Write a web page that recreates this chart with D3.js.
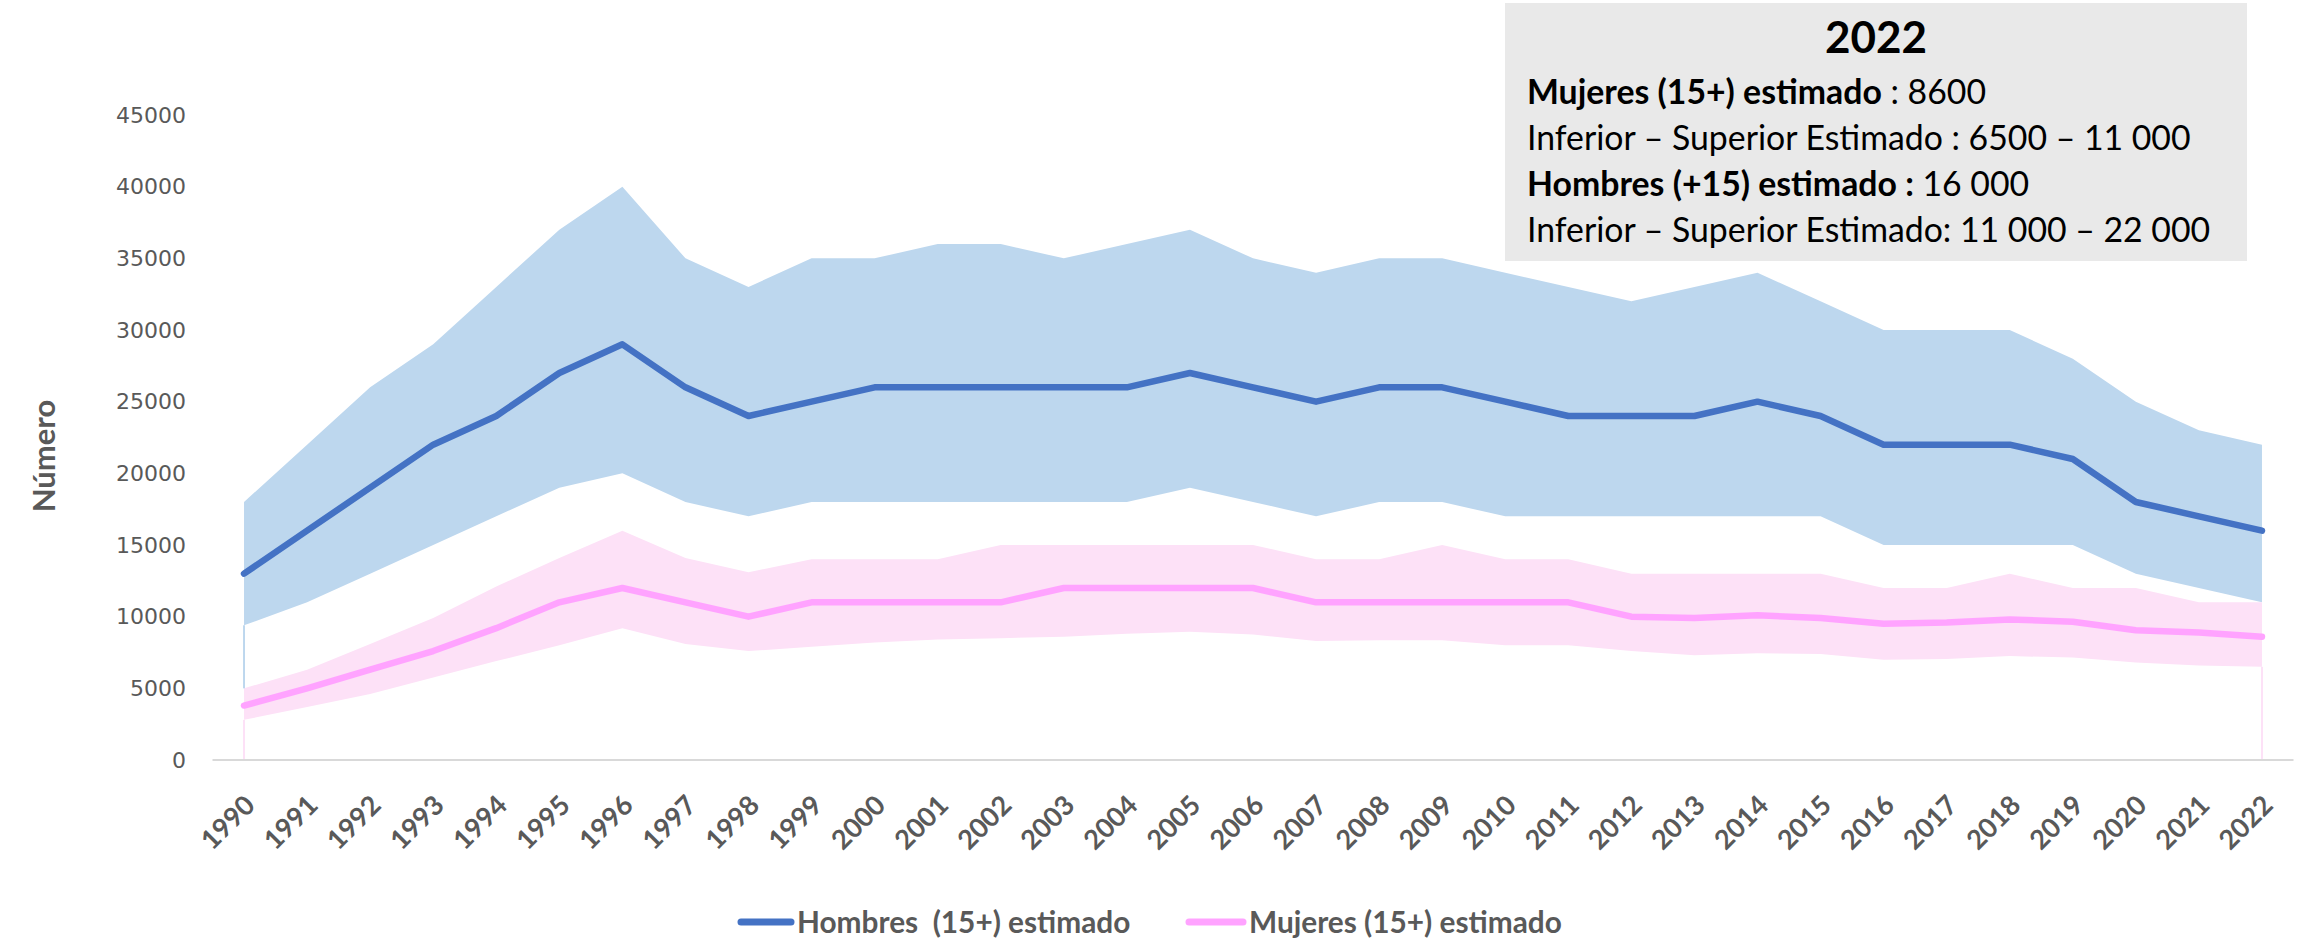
<!DOCTYPE html>
<html>
<head>
<meta charset="utf-8">
<script src="https://cdnjs.cloudflare.com/ajax/libs/d3/7.8.5/d3.min.js"></script>
<style>
  body { margin: 0; background: #fff; }
  text { white-space: pre; }
</style>
</head>
<body>
<script>
let years = [1990, 1991, 1992, 1993, 1994, 1995, 1996, 1997, 1998, 1999, 2000,
  2001, 2002, 2003, 2004, 2005, 2006, 2007, 2008, 2009, 2010, 2011,
  2012, 2013, 2014, 2015, 2016, 2017, 2018, 2019, 2020, 2021, 2022];

let hombres = [13000, 16000, 19000, 22000, 24000, 27000, 29000, 26000, 24000, 25000, 26000,
  26000, 26000, 26000, 26000, 27000, 26000, 25000, 26000, 26000, 25000, 24000,
  24000, 24000, 25000, 24000, 22000, 22000, 22000, 21000, 18000, 17000, 16000];
let hombresLow = [9400, 11000, 13000, 15000, 17000, 19000, 20000, 18000, 17000, 18000, 18000,
  18000, 18000, 18000, 18000, 19000, 18000, 17000, 18000, 18000, 17000, 17000,
  17000, 17000, 17000, 17000, 15000, 15000, 15000, 15000, 13000, 12000, 11000];
let hombresHigh = [18000, 22000, 26000, 29000, 33000, 37000, 40000, 35000, 33000, 35000, 35000,
  36000, 36000, 35000, 36000, 37000, 35000, 34000, 35000, 35000, 34000, 33000,
  32000, 33000, 34000, 32000, 30000, 30000, 30000, 28000, 25000, 23000, 22000];

let mujeres = [3800, 5000, 6300, 7600, 9200, 11000, 12000, 11000, 10000, 11000, 11000,
  11000, 11000, 12000, 12000, 12000, 12000, 11000, 11000, 11000, 11000, 11000,
  10000, 9900, 10100, 9900, 9500, 9600, 9800, 9650, 9050, 8900, 8600];
let mujeresLow = [2800, 3700, 4600, 5750, 6900, 8000, 9200, 8100, 7600, 7900, 8200,
  8400, 8500, 8600, 8800, 8950, 8750, 8300, 8350, 8350, 8000, 8000,
  7600, 7300, 7450, 7400, 7000, 7050, 7250, 7150, 6800, 6600, 6500];
let mujeresHigh = [5000, 6300, 8100, 9900, 12100, 14100, 16000, 14100, 13100, 14000, 14000,
  14000, 15000, 15000, 15000, 15000, 15000, 14000, 14000, 15000, 14000, 14000,
  13000, 13000, 13000, 13000, 12000, 12000, 13000, 12000, 12000, 11000, 11000];

let yTicks = [0, 5000, 10000, 15000, 20000, 25000, 30000, 35000, 40000, 45000];

let seriesNames = ['Hombres  (15+) estimado', 'Mujeres (15+) estimado'];

let boxTitle = '2022';
let boxLines = [
  [['Mujeres (15+) estimado', true], [' : 8600', false]],
  [['Inferior \u2013 Superior Estimado : 6500 \u2013 11 000', false]],
  [['Hombres (+15) estimado :', true], [' 16 000', false]],
  [['Inferior \u2013 Superior Estimado: 11 000 \u2013 22 000', false]]
];

let svgWidth = 2302;
let svgHeight = 939;

let margins = {
  top: 115,
  right: 8.5,
  bottom: 179,
  left: 212.5
};

let blue = '#4472C4';
let blueFill = '#BDD7EE';
let pink = '#FFA3FF';
let pinkFill = '#FDE1F7';
let grey = '#595959';

let svg = d3.select('body')
  .append('svg')
  .attr('width', svgWidth)
  .attr('height', svgHeight);

let x = d3.scalePoint()
  .domain(years)
  .range([margins.left, svgWidth - margins.right])
  .padding(0.5);

let y = d3.scaleLinear()
  .domain([0, 45000])
  .range([svgHeight - margins.bottom, margins.top]);

let band = (low, high) => d3.area()
  .x((d, i) => x(years[i]))
  .y0((d, i) => y(low[i]))
  .y1((d, i) => y(high[i]));

let line = d3.line()
  .x((d, i) => x(years[i]))
  .y(d => y(d));

// bands
svg.append('path')
  .datum(years)
  .attr('d', band(hombresLow, hombresHigh))
  .attr('fill', blueFill);

svg.append('path')
  .datum(years)
  .attr('d', band(mujeresLow, mujeresHigh))
  .attr('fill', pinkFill);

// thin edges left by the stacked areas in the original
let first = years[0];
svg.append('line')
  .attr('x1', x(first)).attr('x2', x(first))
  .attr('y1', y(hombresLow[0])).attr('y2', y(mujeresHigh[0]))
  .attr('stroke', blueFill).attr('stroke-width', 2);
[0, years.length - 1].forEach(i => {
  svg.append('line')
    .attr('x1', x(years[i])).attr('x2', x(years[i]))
    .attr('y1', y(mujeresLow[i])).attr('y2', y(0))
    .attr('stroke', pinkFill).attr('stroke-width', 2);
});

// axis line
svg.append('line')
  .attr('x1', margins.left)
  .attr('x2', svgWidth - margins.right)
  .attr('y1', y(0))
  .attr('y2', y(0))
  .attr('stroke', '#D9D9D9')
  .attr('stroke-width', 2);

// lines
svg.append('path')
  .datum(hombres)
  .attr('d', line)
  .attr('fill', 'none')
  .attr('stroke', blue)
  .attr('stroke-width', 6.5)
  .attr('stroke-linecap', 'round')
  .attr('stroke-linejoin', 'round');

svg.append('path')
  .datum(mujeres)
  .attr('d', line)
  .attr('fill', 'none')
  .attr('stroke', pink)
  .attr('stroke-width', 6.5)
  .attr('stroke-linecap', 'round')
  .attr('stroke-linejoin', 'round');

// y axis labels
let leftAxis = d3.axisLeft(y)
  .tickValues(yTicks)
  .tickFormat(d3.format('d'))
  .tickSize(0)
  .tickPadding(0);

let yAxis = svg.append('g')
  .attr('transform', 'translate(186, 0)')
  .call(leftAxis);
yAxis.select('.domain').remove();
yAxis.selectAll('text')
  .attr('font-family', 'DejaVu Sans')
  .attr('font-size', 22)
  .attr('fill', grey);

// x axis labels
let bottomAxis = d3.axisBottom(x).tickSize(0).tickPadding(0);
let xAxis = svg.append('g')
  .attr('transform', `translate(0, ${y(0)})`)
  .call(bottomAxis);
xAxis.select('.domain').remove();
xAxis.selectAll('text')
  .attr('font-family', 'Lato')
  .attr('font-weight', 'bold')
  .attr('font-size', 27)
  .attr('fill', grey)
  .attr('text-anchor', 'end')
  .attr('dy', 0)
  .attr('y', 0)
  .attr('transform', 'translate(12, 47) rotate(-45)');

// y title
svg.append('text')
  .attr('transform', 'translate(55, 456) rotate(-90)')
  .attr('text-anchor', 'middle')
  .attr('font-family', 'Lato')
  .attr('font-weight', 'bold')
  .attr('font-size', 31)
  .attr('fill', grey)
  .text('Número');

// annotation box
svg.append('rect')
  .attr('x', 1505)
  .attr('y', 3)
  .attr('width', 742)
  .attr('height', 258)
  .attr('fill', '#E9E9E9');

svg.append('text')
  .attr('x', 1876)
  .attr('y', 53)
  .attr('text-anchor', 'middle')
  .attr('font-family', 'Lato')
  .attr('font-weight', 'bold')
  .attr('font-size', 44)
  .attr('fill', '#000')
  .text(boxTitle);

boxLines.forEach((parts, i) => {
  let t = svg.append('text')
    .attr('x', 1527)
    .attr('y', 104 + i * 46)
    .attr('font-family', 'Lato')
    .attr('font-size', 33.8)
    .attr('fill', '#000');
  parts.forEach(p => {
    t.append('tspan')
      .attr('font-weight', p[1] ? 'bold' : 'normal')
      .text(p[0]);
  });
});

// legend
let legend = svg.append('g');
[[741, 797, blue], [1189, 1249, pink]].forEach((pos, i) => {
  legend.append('line')
    .attr('x1', pos[0]).attr('x2', pos[1] - 6)
    .attr('y1', 922).attr('y2', 922)
    .attr('stroke', pos[2])
    .attr('stroke-width', 7)
    .attr('stroke-linecap', 'round');
  legend.append('text')
    .attr('x', pos[1])
    .attr('y', 933)
    .attr('font-family', 'Lato')
    .attr('font-weight', 'bold')
    .attr('font-size', 29.8)
    .attr('fill', grey)
    .text(seriesNames[i]);
});
</script>
</body>
</html>
